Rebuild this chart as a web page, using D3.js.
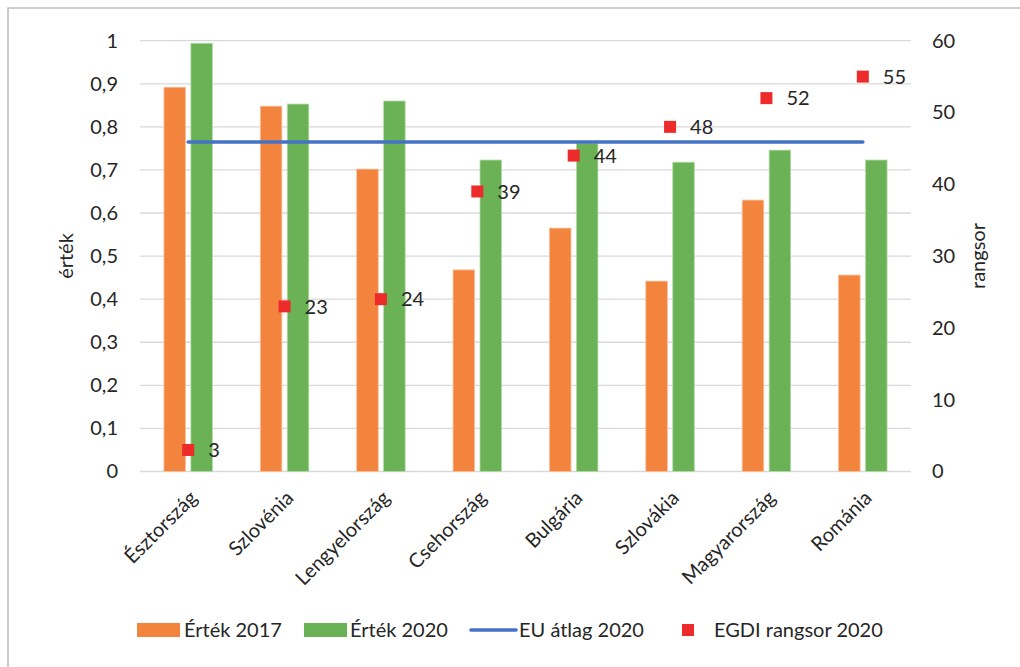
<!DOCTYPE html>
<html>
<head>
<meta charset="utf-8">
<script src="https://cdn.jsdelivr.net/npm/d3@7"></script>
<style>
  html, body { margin: 0; padding: 0; background: #fff; }
  svg { display: block; font-family: Lato, "Open Sans", sans-serif; }
</style>
</head>
<body>
<svg id="chart" width="1020" height="667"></svg>
<script>
// Country categories
const countries = ["Észtország", "Szlovénia", "Lengyelország", "Csehország", "Bulgária", "Szlovákia", "Magyarország", "Románia"];
// EGDI index values
const value2017 = [0.892, 0.848, 0.702, 0.468, 0.565, 0.442, 0.630, 0.456];
const value2020 = [0.994, 0.853, 0.860, 0.723, 0.762, 0.718, 0.746, 0.723];
// EU average 2020 (constant reference line)
const euAverage2020 = 0.765;
// EGDI ranking 2020 (right axis)
const rank2020 = [3, 23, 24, 39, 44, 48, 52, 55];
// Axis ticks
const leftTicks = [0, 0.1, 0.2, 0.3, 0.4, 0.5, 0.6, 0.7, 0.8, 0.9, 1];
const rightTicks = [0, 10, 20, 30, 40, 50, 60];
// Legend
const legendLabels = ["Érték 2017", "Érték 2020", "EU átlag 2020", "EGDI rangsor 2020"];

const colors = { v2017: "#f3843e", v2020: "#6bb257", eu: "#4472c4", rank: "#ee2b2b", text: "#262626", grid: "#d9d9d9" };

const svg = d3.select("#chart");
const plot = { left: 140, right: 911, top: 40.7, bottom: 471.5 };

const fmt = v => String(v).replace(".", ",");

// outer frame (left and top edges)
svg.append("path")
  .attr("d", "M8,667 V8 H1020")
  .attr("fill", "none").attr("stroke", "#bfbfbf").attr("stroke-width", 1.6);

const x0 = d3.scaleBand().domain(countries).range([plot.left, plot.right]).padding(0);
const half = 24.25;
const x1 = d3.scaleBand().domain(["2017", "2020"])
  .range([x0.bandwidth() / 2 - half, x0.bandwidth() / 2 + half]).paddingInner(0.2);
const yL = d3.scaleLinear().domain([0, 1]).range([plot.bottom, plot.top]);
const yR = d3.scaleLinear().domain([0, 60]).range([plot.bottom, plot.top]);

// gridlines
svg.append("g").selectAll("line").data(leftTicks).join("line")
  .attr("x1", plot.left).attr("x2", plot.right)
  .attr("y1", d => yL(d)).attr("y2", d => yL(d))
  .attr("stroke", colors.grid).attr("stroke-width", 1.3);

// left axis
const axL = svg.append("g").attr("transform", `translate(${plot.left},0)`)
  .call(d3.axisLeft(yL).tickValues(leftTicks).tickFormat(fmt).tickSize(0).tickPadding(22));
axL.select(".domain").remove();
axL.selectAll("text").attr("font-size", 20).attr("fill", colors.text).attr("font-family", "Lato, sans-serif");

// right axis
const axR = svg.append("g").attr("transform", `translate(${plot.right},0)`)
  .call(d3.axisRight(yR).tickValues(rightTicks).tickSize(0).tickPadding(21));
axR.select(".domain").remove();
axR.selectAll("text").attr("font-size", 20).attr("fill", colors.text).attr("font-family", "Lato, sans-serif");

// axis titles
svg.append("text").attr("transform", "translate(73,256) rotate(-90)")
  .attr("text-anchor", "middle").attr("font-size", 20).attr("fill", colors.text).text("érték");
svg.append("text").attr("transform", "translate(985,256) rotate(-90)")
  .attr("text-anchor", "middle").attr("font-size", 20).attr("fill", colors.text).text("rangsor");

// bars
const rows = countries.map((c, i) => ({ c, v2017: value2017[i], v2020: value2020[i], rank: rank2020[i] }));
const groups = svg.append("g").selectAll("g").data(rows).join("g")
  .attr("transform", d => `translate(${x0(d.c)},0)`);
groups.append("rect")
  .attr("x", x1("2017")).attr("width", x1.bandwidth())
  .attr("y", d => yL(d.v2017)).attr("height", d => yL(0) - yL(d.v2017))
  .attr("fill", colors.v2017).attr("stroke", "#f9c09c").attr("stroke-width", 0.8);
groups.append("rect")
  .attr("x", x1("2020")).attr("width", x1.bandwidth())
  .attr("y", d => yL(d.v2020)).attr("height", d => yL(0) - yL(d.v2020))
  .attr("fill", colors.v2020).attr("stroke", "#b5dba8").attr("stroke-width", 0.8);

// category labels
const cx = c => x0(c) + x0.bandwidth() / 2;
svg.append("g").selectAll("text").data(countries).join("text")
  .attr("transform", c => `translate(${cx(c)},${489}) rotate(-45)`)
  .attr("text-anchor", "end").attr("dy", "0.72em")
  .attr("font-size", 20).attr("fill", colors.text).text(c => c);

// EU average line
svg.append("path")
  .datum(countries)
  .attr("d", d3.line().x(c => cx(c)).y(() => yL(euAverage2020)))
  .attr("fill", "none").attr("stroke", colors.eu).attr("stroke-width", 3.6).attr("stroke-linecap", "round");

// rank markers
const mk = 12;
svg.append("g").selectAll("rect").data(rows).join("rect")
  .attr("x", d => cx(d.c) - mk / 2).attr("y", d => yR(d.rank) - mk / 2)
  .attr("width", mk).attr("height", mk).attr("fill", colors.rank);
svg.append("g").selectAll("text").data(rows).join("text")
  .attr("x", d => cx(d.c) + 20).attr("y", d => yR(d.rank)).attr("dy", "0.36em")
  .attr("font-size", 20).attr("fill", colors.text).text(d => d.rank);

// legend
const lg = svg.append("g").attr("font-size", 20).attr("fill", colors.text);
const baseY = 637;
lg.append("rect").attr("x", 137).attr("y", 623).attr("width", 43).attr("height", 14).attr("fill", colors.v2017);
lg.append("text").attr("x", 184).attr("y", baseY).text(legendLabels[0]);
lg.append("rect").attr("x", 304).attr("y", 623).attr("width", 43).attr("height", 14).attr("fill", colors.v2020);
lg.append("text").attr("x", 350).attr("y", baseY).text(legendLabels[1]);
lg.append("line").attr("x1", 471).attr("x2", 516).attr("y1", 630).attr("y2", 630)
  .attr("stroke", colors.eu).attr("stroke-width", 3.6).attr("stroke-linecap", "round");
lg.append("text").attr("x", 519).attr("y", baseY).text(legendLabels[2]);
lg.append("rect").attr("x", 682).attr("y", 624).attr("width", 12).attr("height", 12).attr("fill", colors.rank);
lg.append("text").attr("x", 714).attr("y", baseY).text(legendLabels[3]);
</script>
</body>
</html>
